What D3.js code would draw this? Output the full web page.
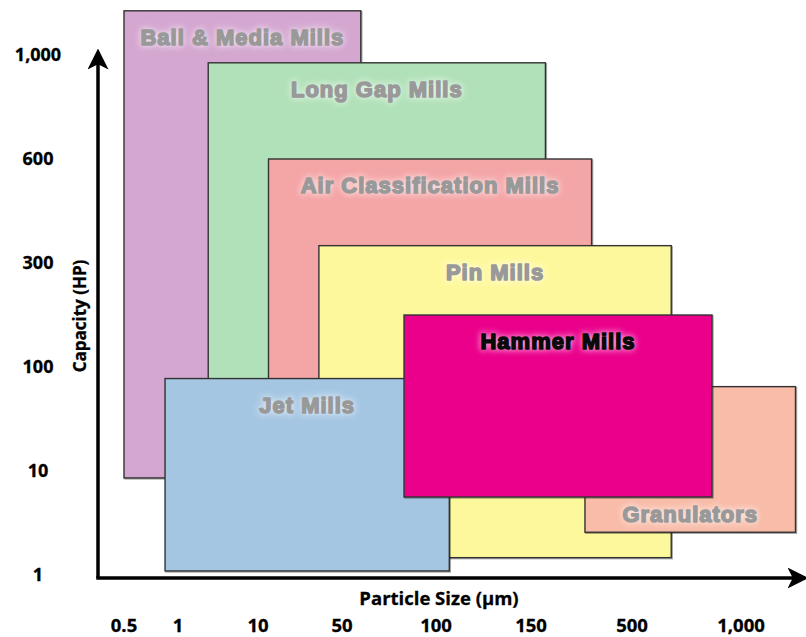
<!DOCTYPE html>
<html>
<head>
<meta charset="utf-8">
<script src="https://cdn.jsdelivr.net/npm/d3@7/dist/d3.min.js"></script>
<style>
  html, body { margin: 0; padding: 0; background: #fff; }
  svg { display: block; }
</style>
</head>
<body>
<svg id="chart" width="806" height="637"></svg>
<script>
// Particle-size ticks (µm) and capacity ticks (HP)
const sizeTicks = [0.5, 1, 10, 50, 100, 150, 500, 1000];
const sizeTickLabels = ["0.5", "1", "10", "50", "100", "150", "500", "1,000"];
const hpTicks = [1, 10, 100, 300, 600, 1000];
const hpTickLabels = ["1", "10", "100", "300", "600", "1,000"];

// Mill types in drawing order (back to front)
const mills = ["Ball & Media Mills", "Long Gap Mills", "Air Classification Mills", "Pin Mills", "Granulators", "Jet Mills", "Hammer Mills"];
const sizeMin = [0.5, 4.4, 15, 39, 337, 0.88, 83];
const sizeMax = [60, 200, 360, 680, 1250, 107, 867];
const hpMin   = [9.4, 20, 20, 2.5, 4.7, 1.35, 7.75];
const hpMax   = [1170, 970, 600, 350, 83, 90, 200];
const millColors = ["#d4a7d1", "#b1e1b8", "#f4a5a6", "#fef89c", "#f8bca9", "#a5c6e2", "#ea008b"];
const labelColors = ["#999999", "#999999", "#999999", "#999999", "#999999", "#999999", "#0a0a0a"];
const labelAtBottom = [false, false, false, false, true, false, false];

const svg = d3.select("#chart");

// Category-style axes: ticks are spaced by position, values between ticks interpolate linearly
const x = d3.scaleLinear().domain(sizeTicks).range([124, 178, 258, 342, 436, 531, 632, 741]);
const y = d3.scaleLinear().domain(hpTicks).range(hpTicks.map((d, i) => 575 - i * 104));

const defs = svg.append("defs");
defs.append("marker")
  .attr("id", "arrow")
  .attr("viewBox", "0 0 12 12")
  .attr("refX", 10).attr("refY", 6)
  .attr("markerWidth", 6).attr("markerHeight", 6)
  .attr("markerUnits", "strokeWidth")
  .attr("orient", "auto")
  .append("path")
  .attr("d", "M0,0 L12,6 L0,12 L3,6 Z")
  .attr("fill", "#000");

const glow = defs.append("filter").attr("id", "glow")
  .attr("x", "-20%").attr("y", "-50%").attr("width", "140%").attr("height", "200%");
glow.append("feGaussianBlur").attr("stdDeviation", 3);

const shadow = defs.append("filter").attr("id", "shadow")
  .attr("x", "-5%").attr("y", "-5%").attr("width", "110%").attr("height", "110%");
shadow.append("feDropShadow").attr("dx", 1).attr("dy", 1).attr("stdDeviation", 0.6)
  .attr("flood-color", "#000").attr("flood-opacity", 0.35);

const data = mills.map((name, i) => ({
  name, x0: sizeMin[i], x1: sizeMax[i], y0: hpMin[i], y1: hpMax[i],
  fill: millColors[i], labelColor: labelColors[i], bottom: labelAtBottom[i]
}));

// Axes lines with arrow heads
svg.append("line")
  .attr("x1", 98).attr("y1", 578).attr("x2", 98).attr("y2", 52)
  .attr("stroke", "#000").attr("stroke-width", 3.5)
  .attr("marker-end", "url(#arrow)");
svg.append("line")
  .attr("x1", 96.25).attr("y1", 578).attr("x2", 805).attr("y2", 578)
  .attr("stroke", "#000").attr("stroke-width", 3.5)
  .attr("marker-end", "url(#arrow)");

// Mill ranges
const g = svg.append("g").selectAll("g").data(data).join("g");

g.append("rect")
  .attr("x", d => x(d.x0))
  .attr("y", d => y(d.y1))
  .attr("width", d => x(d.x1) - x(d.x0))
  .attr("height", d => y(d.y0) - y(d.y1))
  .attr("fill", d => d.fill)
  .attr("stroke", "#333")
  .attr("stroke-width", 1.4)
  .attr("filter", "url(#shadow)");

const labelY = d => d.bottom ? y(d.y0) - 10 : y(d.y1) + 34;
const labelFont = "'Liberation Sans', Arial, sans-serif";

function millLabel(sel) {
  return sel
    .attr("x", d => (x(d.x0) + x(d.x1)) / 2)
    .attr("y", labelY)
    .attr("text-anchor", "middle")
    .attr("font-family", labelFont)
    .attr("font-weight", 700)
    .attr("font-size", 22)
    .attr("letter-spacing", 1)
    .text(d => d.name);
}

// soft halo behind each label
g.append("text").call(millLabel)
  .attr("fill", "#fff")
  .attr("stroke", "#fff")
  .attr("stroke-width", 3)
  .attr("opacity", 0.6)
  .attr("filter", "url(#glow)");

g.append("text").call(millLabel)
  .attr("fill", d => d.labelColor)
  .attr("stroke", d => d.labelColor)
  .attr("stroke-width", 1.5)
  .attr("stroke-linejoin", "round");

// Tick labels
const axisFont = "'Open Sans', 'DejaVu Sans', sans-serif";
svg.append("g").selectAll("text").data(hpTicks).join("text")
  .attr("x", 38).attr("y", d => y(d))
  .attr("dy", "0.35em")
  .attr("text-anchor", "middle")
  .attr("font-family", axisFont).attr("font-weight", 700).attr("font-size", 18)
  .attr("fill", "#000")
  .attr("stroke", "#000").attr("stroke-width", 0.3)
  .text((d, i) => hpTickLabels[i]);

svg.append("g").selectAll("text").data(sizeTicks).join("text")
  .attr("x", d => x(d)).attr("y", 632)
  .attr("text-anchor", "middle")
  .attr("font-family", axisFont).attr("font-weight", 700).attr("font-size", 18.5)
  .attr("fill", "#000")
  .attr("stroke", "#000").attr("stroke-width", 0.3)
  .text((d, i) => sizeTickLabels[i]);

// Axis titles
svg.append("text")
  .attr("x", 439).attr("y", 605)
  .attr("text-anchor", "middle")
  .attr("font-family", axisFont).attr("font-weight", 700).attr("font-size", 18.5)
  .attr("fill", "#000")
  .attr("stroke", "#000").attr("stroke-width", 0.3)
  .text("Particle Size (µm)");

svg.append("text")
  .attr("transform", "translate(86,316) rotate(-90)")
  .attr("text-anchor", "middle")
  .attr("font-family", axisFont).attr("font-weight", 700).attr("font-size", 17)
  .attr("fill", "#000")
  .attr("stroke", "#000").attr("stroke-width", 0.3)
  .text("Capacity (HP)");
</script>
</body>
</html>
